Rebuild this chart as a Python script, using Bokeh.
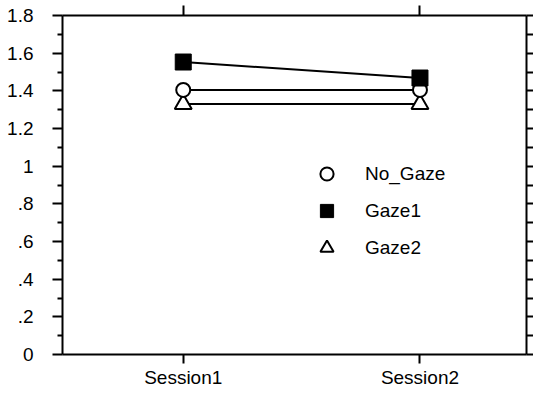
from bokeh.plotting import figure
from bokeh.models import (LinearAxis, FixedTicker, SingleIntervalTicker, Range1d,
                          Legend, LegendItem, CustomJSTickFormatter)
from bokeh.embed import file_html
from bokeh.resources import INLINE

# ---- data ----
sessions = ["Session1", "Session2"]
no_gaze = [1.405, 1.405]
gaze1 = [1.553, 1.468]
gaze2 = [1.33, 1.33]
y_ticks = [0, 0.2, 0.4, 0.6, 0.8, 1, 1.2, 1.4, 1.6, 1.8]
y_tick_labels = ["0", ".2", ".4", ".6", ".8", "1", "1.2", "1.4", "1.6", "1.8"]
y_minor = [0.1, 0.3, 0.5, 0.7, 0.9, 1.1, 1.3, 1.5, 1.7]

x_pos = list(range(1, len(sessions) + 1))
FONT = "Liberation Sans"
FS = "19px"

p = figure(width=533, height=390, output_backend="svg", toolbar_location=None,
           x_range=Range1d(0.49, 2.45), y_range=Range1d(0, 1.8),
           x_axis_location=None, y_axis_location=None,
           min_border_left=62, min_border_right=7, min_border_top=15, min_border_bottom=35)
p.outline_line_color = None
p.xgrid.visible = False
p.ygrid.visible = False
p.background_fill_color = "white"
p.border_fill_color = "white"

blank = CustomJSTickFormatter(code="return ''")


def style(ax):
    ax.axis_line_color = "black"
    ax.axis_line_width = 2
    ax.major_tick_line_color = "black"
    ax.major_tick_line_width = 2
    ax.minor_tick_line_color = "black"
    ax.minor_tick_line_width = 2
    ax.major_tick_in = 0
    ax.minor_tick_in = 0
    ax.major_label_text_font = FONT
    ax.major_label_text_font_size = FS
    ax.major_label_text_color = "black"


# left axis
left = LinearAxis(ticker=FixedTicker(ticks=y_ticks, minor_ticks=y_minor))
style(left)
left.major_tick_out = 10
left.minor_tick_out = 5
left.major_label_standoff = 19
left.major_label_overrides = {float(t): lab for t, lab in zip(y_ticks, y_tick_labels)}
p.add_layout(left, "left")

# right axis (ticks only)
right = LinearAxis(ticker=SingleIntervalTicker(interval=0.1, num_minor_ticks=0),
                   formatter=blank)
style(right)
right.major_tick_out = 7
right.minor_tick_out = 0
right.major_label_standoff = 0
p.add_layout(right, "right")

# bottom axis
bottom = LinearAxis(ticker=FixedTicker(ticks=x_pos, minor_ticks=[]))
style(bottom)
bottom.major_tick_out = 9
bottom.minor_tick_out = 0
bottom.major_label_standoff = 3
bottom.major_label_overrides = {float(x): s for x, s in zip(x_pos, sessions)}
p.add_layout(bottom, "below")

# top axis (ticks only)
top = LinearAxis(ticker=FixedTicker(ticks=x_pos, minor_ticks=[]), formatter=blank)
style(top)
top.major_tick_out = 10
top.minor_tick_out = 0
top.major_label_standoff = 0
p.add_layout(top, "above")

# lines
p.line(x_pos, no_gaze, line_color="black", line_width=2)
p.line(x_pos, gaze2, line_color="black", line_width=2)
p.line(x_pos, gaze1, line_color="black", line_width=2)

# markers
r_tri = p.scatter(x_pos, gaze2, marker="triangle", size=17, fill_color="white",
                  line_color="black", line_width=2)
r_circ = p.scatter(x_pos, no_gaze, marker="circle", size=14, fill_color="white",
                   line_color="black", line_width=2)
r_sq = p.scatter(x_pos, gaze1, marker="square", size=16, fill_color="black",
                 line_color="black", line_width=1)

legend = Legend(items=[LegendItem(label="No_Gaze", renderers=[r_circ]),
                       LegendItem(label="Gaze1", renderers=[r_sq]),
                       LegendItem(label="Gaze2", renderers=[r_tri])],
                location=(248, 90))
legend.border_line_color = None
legend.background_fill_alpha = 0
legend.padding = 0
legend.margin = 0
legend.spacing = 4
legend.glyph_width = 33
legend.glyph_height = 33
legend.label_height = 33
legend.label_standoff = 22
legend.label_text_font = FONT
legend.label_text_font_size = FS
legend.label_text_color = "black"
p.add_layout(legend, "center")

open("out.html", "w").write(file_html(p, INLINE))
